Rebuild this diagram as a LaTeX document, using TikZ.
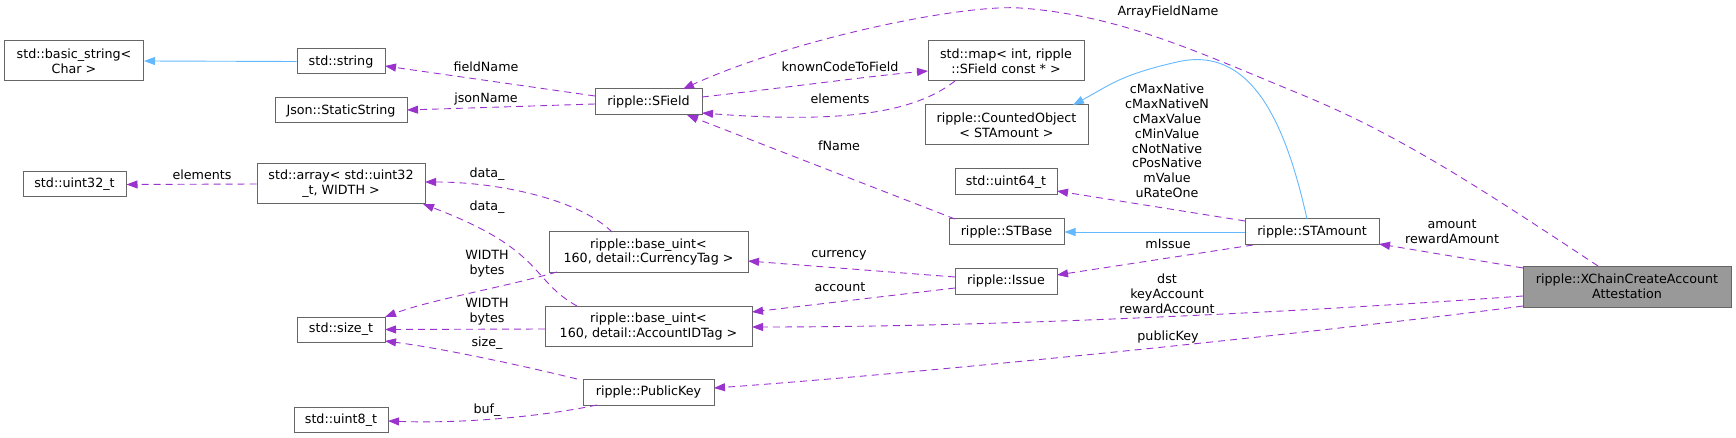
\documentclass[tikz,border=0pt]{standalone}
\usepackage{fontspec}
\setmainfont{DejaVu Sans}
\usetikzlibrary{arrows.meta,calc}
\definecolor{depc}{HTML}{9A32CD}
\definecolor{inhc}{HTML}{63B8FF}
\definecolor{bord}{HTML}{666666}
\definecolor{hl}{HTML}{999999}
\begin{document}
\begin{tikzpicture}[x=1pt,y=-1pt,
 box/.style={draw=bord,line width=1pt,fill=white,inner sep=0pt,align=center,font=\fontsize{12.7}{14.8}\selectfont},
 lab/.style={inner sep=0pt,align=center,font=\fontsize{12.7}{14.8}\selectfont},
 depe/.style={draw=depc,line width=0.9pt,dash pattern=on 7pt off 5pt,-{Triangle[length=11pt,width=8pt,fill=depc]}},
 inh/.style={draw=inhc,line width=0.9pt,-{Triangle[length=11pt,width=8pt,fill=inhc]}}]
\useasboundingbox (0,0) rectangle (1736,438);
% nodes
\node[box,minimum width=139pt,minimum height=40pt] (bstring) at (74,61) {std::basic\_string<\\Char >};
\node[box,minimum width=88pt,minimum height=25pt] (string) at (341,61.5) {std::string};
\node[box,minimum width=132pt,minimum height=25pt] (json) at (341,110.5) {Json::StaticString};
\node[box,minimum width=103pt,minimum height=25pt] (uint32) at (74.5,184.5) {std::uint32\_t};
\node[box,minimum width=168pt,minimum height=40pt] (array) at (341,184) {std::array< std::uint32\\\_t, WIDTH >};
\node[box,minimum width=88pt,minimum height=25pt] (sizet) at (341,329.5) {std::size\_t};
\node[box,minimum width=94pt,minimum height=25pt] (uint8) at (341,420) {std::uint8\_t};
\node[box,minimum width=107pt,minimum height=26pt] (sfield) at (648.5,102) {ripple::SField};
\node[box,minimum width=199pt,minimum height=40pt] (bcur) at (648.5,252) {ripple::base\_uint<\\ 160, detail::CurrencyTag >};
\node[box,minimum width=207pt,minimum height=40pt] (bacc) at (648.5,326.5) {ripple::base\_uint<\\ 160, detail::AccountIDTag >};
\node[box,minimum width=131pt,minimum height=26pt] (pubkey) at (648.5,392) {ripple::PublicKey};
\node[box,minimum width=156pt,minimum height=40pt] (map) at (1006,61) {std::map< int, ripple\\::SField const * >};
\node[box,minimum width=163pt,minimum height=40pt] (counted) at (1006.5,125) {ripple::CountedObject\\< STAmount >};
\node[box,minimum width=102pt,minimum height=26pt] (uint64) at (1006,182) {std::uint64\_t};
\node[box,minimum width=115pt,minimum height=26pt] (stbase) at (1006.5,232) {ripple::STBase};
\node[box,minimum width=102pt,minimum height=26pt] (issue) at (1006,281) {ripple::Issue};
\node[box,minimum width=134pt,minimum height=26pt] (stamount) at (1312,232) {ripple::STAmount};
\node[box,fill=hl,minimum width=208pt,minimum height=41pt] (xchain) at (1627,286.5) {ripple::XChainCreateAccount\\Attestation};
% edges
\draw[inh] (string.west) -- (bstring.east);
\draw[depe] ($(sfield)+(-53.5,-6)$) -- ($(string)+(44,4.5)$);
\draw[depe] ($(sfield)+(-53.5,2)$) -- ($(json)+(66,-0.5)$);
\draw[depe] ($(sfield)+(53.5,-5)$) .. controls (800,86) and (870,76) .. ($(map)+(-78,10)$);
\draw[depe] ($(map)+(-51,20)$) .. controls (920,108) and (860,125) .. ($(sfield)+(53.5,11)$);
\draw[depe] ($(xchain)+(-29,-20.5)$) .. controls (1480,188) and (1400,135) .. (1300,94) .. controls (1200,53) and (1120,15) .. (1020,8) .. controls (960,4) and (790,40) .. ($(sfield)+(34.5,-13)$);
\draw[depe] ($(stbase)+(-51.5,-13)$) -- ($(sfield)+(38.5,13)$);
\draw[depe] (array.west) -- (uint32.east);
\draw[depe] ($(bcur)+(-36.5,-20)$) .. controls (580,200) and (500,182) .. ($(array)+(84,-2)$);
\draw[depe] ($(bacc)+(-71.5,-20.5)$) .. controls (530,280) and (545,250) .. ($(array)+(82,20)$);
\draw[depe] ($(bcur)+(-91.5,20)$) .. controls (500,288) and (430,300) .. ($(sizet)+(44,-12.5)$);
\draw[depe] ($(bacc)+(-103.5,2.5)$) -- ($(sizet)+(44,0)$);
\draw[depe] ($(pubkey)+(-71.5,-13)$) .. controls (520,365) and (440,348) .. ($(sizet)+(44,11.5)$);
\draw[depe] ($(pubkey)+(-51.5,13)$) .. controls (550,415) and (470,424) .. ($(uint8)+(47,1)$);
\draw[depe] ($(issue)+(-51,-4)$) -- ($(bcur)+(99.5,9)$);
\draw[depe] ($(issue)+(-51,7)$) -- ($(bacc)+(103.5,-14.5)$);
\draw[depe] ($(xchain)+(-104,9.5)$) .. controls (1300,312) and (1000,327) .. ($(bacc)+(103.5,0.5)$);
\draw[depe] ($(xchain)+(-104,19.5)$) .. controls (1300,335) and (900,375) .. ($(pubkey)+(65.5,-4)$);
\draw[depe] ($(stamount)+(-67,-11)$) -- ($(uint64)+(51,9)$);
\draw[inh] (stamount.west) -- (stbase.east);
\draw[depe] ($(stamount)+(-59,13)$) -- ($(issue)+(51,-6)$);
\draw[inh] ($(stamount)+(-5,-13)$) .. controls (1285,120) and (1250,45) .. (1177,62) .. controls (1120,75) and (1110,85) .. ($(counted)+(66.5,-20)$);
\draw[depe] ($(xchain)+(-104,-18.5)$) -- ($(stamount)+(67,12)$);
% labels
\node[lab] (l1) at (486,67) {fieldName};
\node[lab] (l2) at (486,99) {jsonName};
\node[lab] (l3) at (840,67) {knownCodeToField};
\node[lab] (l4) at (840,99) {elements};
\node[lab] (l5) at (839,146) {fName};
\node[lab] (l6) at (1168,12) {ArrayFieldName};
\node[lab] (l7) at (202,175) {elements};
\node[lab] (l8) at (487,174) {data\_};
\node[lab] (l9) at (487,207) {data\_};
\node[lab] (l10) at (487,264) {WIDTH\\bytes};
\node[lab] (l11) at (487,312) {WIDTH\\bytes};
\node[lab] (l12) at (487,343) {size\_};
\node[lab] (l13) at (487,410) {buf\_};
\node[lab] (l14) at (839,255) {currency};
\node[lab] (l15) at (840,287) {account};
\node[lab] (l16) at (1167,141) {cMaxNative\\cMaxNativeN\\cMaxValue\\cMinValue\\cNotNative\\cPosNative\\mValue\\uRateOne};
\node[lab] (l17) at (1168,244) {mIssue};
\node[lab] (l18) at (1167,294) {dst\\keyAccount\\rewardAccount};
\node[lab] (l19) at (1168,337) {publicKey};
\node[lab] (l20) at (1452,232) {amount\\rewardAmount};
\end{tikzpicture}
\end{document}
